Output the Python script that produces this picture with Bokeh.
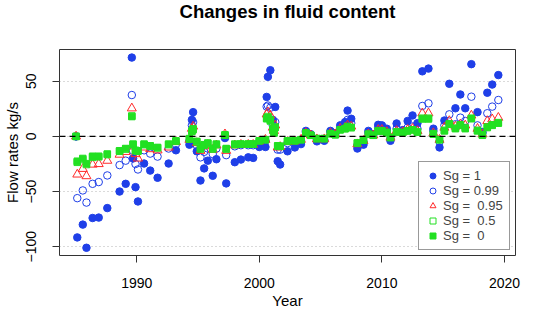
from bokeh.plotting import figure
from bokeh.models import ColumnDataSource, Legend, LegendItem, Span, FixedTicker, Range1d, Title
from bokeh.embed import file_html
from bokeh.resources import INLINE

years = [1985.05, 1985.15, 1985.6, 1985.9, 1986.4, 1986.9, 1987.6, 1988.6, 1989.1, 1989.6,
         1989.7, 1989.9, 1990.1, 1990.6, 1991.1, 1991.7, 1992.6, 1993.2, 1994.3, 1994.5,
         1994.6, 1994.9, 1995.2, 1995.5, 1995.8, 1996.2, 1996.5, 1997.2, 1997.3, 1998.0,
         1998.5, 1999.1, 1999.5, 2000.0, 2000.5, 2000.6, 2000.7, 2000.9, 2001.1, 2001.2,
         2001.3, 2001.5, 2001.7, 2002.3, 2002.9, 2003.4, 2003.8, 2004.2, 2004.7, 2005.3,
         2005.8, 2006.2, 2006.6, 2007.0, 2007.2, 2007.5, 2008.0, 2008.5, 2008.9, 2009.3,
         2009.7, 2010.0, 2010.4, 2010.7, 2011.2, 2011.7, 2012.1, 2012.5, 2012.9, 2013.3,
         2013.8, 2014.2, 2014.7, 2015.1, 2015.5, 2016.0, 2016.4, 2016.8, 2017.3, 2017.8,
         2018.2, 2018.6, 2019.0, 2019.5]

sg_1 = [0, -91.6, -80, -101, -74, -73.6, -65, -50, -43, 71.5,
        -20, -46, -59, -24.6, -31, -37.5, -24.6, -12.6, -7.5, 15,
        22, -13.5, -40, -29, -22, -35.7, -20.7, -1.5, -42.6, -23.4,
        -21, -19, -19.5, -9.6, -9.6, 35.8, 54, 60, 15, 8,
        26.7, -22.5, -25.5, -13.5, -10, -7, 5, 2, -4.5, -4,
        5, 3, 10, 13, 23.4, 16, -11, -7.5, 5, 2,
        10.5, 10, 7, -4, 11.7, 5.7, 14, 19, 12, 59,
        61.5, 7, -10, 14.4, 47.7, 25.5, 38, 25.5, 65.5, 22,
        4, 39.6, 47, 55.6]

sg_099 = [0, -56, -49, -60, -43, -41.4, -35.4, -26, -22, 37.5,
          -13, -25, -30, -12.6, -15.6, -18.3, -11, -7, -4, 10,
          13, -8, -19, -14, -11, -16, -11, 1, -17, -9,
          -8, -8, -8, -5, -4, 27, 28, 26, 10, 6,
          13, -12, -12, -6, -5, -4, 4, 1.5, -3, -3,
          4, 2.5, 8, 10, 15, 12, -8, -5, 3, 1.5,
          8, 7, 5, -2, 7, 5, 8, 9, 7, 27.6,
          30, 5, -5, 10, 20, 11, 17, 14, 36, 10,
          3, 21, 27, 33]

sg_095 = [0, -34.5, -29.4, -36, -25.5, -25, -22, -16.5, -14, 25.5,
          -9, -16, -20, -10, -11.5, -12.6, -10, -5, -3, 7,
          9, -6, -13, -9, -7.5, -12, -8, 2, -13, -8,
          -7.5, -7.5, -7.5, -4.5, -3, 20, 22, 19, 8, 5,
          10, -10, -9.5, -5, -4.5, -3, 3, 1, -2.5, -2.5,
          3, 2, 7, 8, 10, 9, -7, -4, 2, 1,
          6, 6, 4, -1, 5, 4, 6, 7, 5, 21,
          21, 3, -3, 8, 14, 9, 11, 10, 19, 7,
          2, 14, 15.6, 17]

sg_05 = [0, -23.5, -21, -25.5, -19, -18.5, -16.5, -13.5, -11.5, 18.5,
         -7.5, -13, -13.5, -7.5, -9, -10.5, -7.5, -4.5, -2.5, 5,
         7, -5, -11.5, -8, -6.5, -11.5, -7.5, 1.5, -11.5, -7.5,
         -7, -7, -7, -4, -3, 16.5, 18, 15, 7, 4,
         8.5, -9, -9, -4.5, -4, -3, 3, 1, -2, -2,
         2.5, 1.5, 6, 7, 9, 8, -6, -3.5, 2, 1,
         5, 5, 3.5, -1, 4, 3.5, 5, 6, 4, 16.5,
         16.5, 2.5, -3, 5.5, 11.5, 7.5, 10.5, 8, 16.5, 5.5,
         1.5, 8.5, 10.5, 12.5]

sg_0 = [0, -22.5, -20, -24.7, -18, -18, -16, -13, -11, 18,
        -7, -12.6, -13, -7, -8.5, -10, -7, -4, -2, 4.5,
        6, -4.5, -11, -7.5, -6, -11, -7, 1, -11, -7,
        -7, -7, -7, -4, -3, 16, 17, 14, 6, 3,
        8, -8.5, -9, -4, -4, -3, 3, 1, -2, -2,
        2.5, 1.5, 6, 7, 8.5, 8, -6, -3.5, 2, 1,
        5, 5, 3.5, -1, 4, 3.5, 5, 6, 4, 15.8,
        15.8, 2, -3, 5, 11, 7, 10, 7, 16, 5,
        1, 8, 10, 12]

x_ticks = [1990, 2000, 2010, 2020]
y_ticks = [-100, -50, 0, 50]
labels = ["Sg = 1", "Sg = 0.99", "Sg =  0.95", "Sg =  0.5", "Sg =  0"]
title_text = "Changes in fluid content"

BLUE = "#1f3fe8"
RED = "#ff2a2a"
GREEN = "#22e022"
FONT = "Liberation Sans"

src = ColumnDataSource(dict(x=years, s1=sg_1, s099=sg_099, s095=sg_095, s05=sg_05, s0=sg_0))

p = figure(width=533, height=311, output_backend="svg", toolbar_location=None,
           x_range=Range1d(1983.7, 2020.9), y_range=Range1d(-108, 78.8),
           min_border_left=58, min_border_right=18, min_border_top=47, min_border_bottom=56,
           background_fill_color="white", border_fill_color="white")

# real title (outermost panel)
p.title.text = title_text
p.title.text_font = FONT
p.title.text_font_size = "18.5px"
p.title.text_font_style = "bold"
p.title.align = "center"
p.title.vertical_align = "top"
p.title.text_color = "black"
p.title.standoff = 0
p.title.offset = -7

# invisible spacer between the frame and the title
p.add_layout(Title(text=" ", text_font_size="10px", standoff=13), "above")

p.outline_line_color = "#333333"
p.outline_line_width = 1

p.xgrid.visible = False
p.ygrid.grid_line_color = "#b5b5b5"
p.ygrid.grid_line_dash = "1 3"
p.ygrid.grid_line_width = 1

p.xaxis.ticker = FixedTicker(ticks=x_ticks)
p.yaxis.ticker = FixedTicker(ticks=y_ticks)
p.yaxis.major_label_orientation = "vertical"
for ax in (p.xaxis[0], p.yaxis[0]):
    ax.axis_line_color = None
    ax.minor_tick_line_color = None
    ax.major_tick_in = 0
    ax.major_tick_out = 7
    ax.major_tick_line_color = "#333333"
    ax.major_label_text_font = FONT
    ax.major_label_text_font_size = "14px"
    ax.major_label_text_color = "black"
    ax.axis_label_text_font = FONT
    ax.axis_label_text_font_size = "15px"
    ax.axis_label_text_font_style = "normal"
    ax.axis_label_text_color = "black"
p.xaxis.axis_label = "Year"
p.yaxis.axis_label = "Flow rates kg/s"
p.xaxis.major_label_standoff = 15
p.xaxis.axis_label_standoff = 1
p.yaxis.major_label_standoff = 16
p.yaxis.axis_label_standoff = 3

p.add_layout(Span(location=0, dimension="width", line_color="black",
                  line_dash="6 4", line_width=1.3))

r1 = p.scatter("x", "s1", source=src, marker="circle", size=7.5,
               fill_color=BLUE, line_color=BLUE)
r2 = p.scatter("x", "s099", source=src, marker="circle", size=7.5,
               fill_color=None, line_color=BLUE, line_width=1)
r3 = p.scatter("x", "s095", source=src, marker="triangle", size=9,
               fill_color=None, line_color=RED, line_width=1)
r4 = p.scatter("x", "s05", source=src, marker="square", size=6.5,
               fill_color=None, line_color=GREEN, line_width=1)
r5 = p.scatter("x", "s0", source=src, marker="square", size=6.5,
               fill_color=GREEN, line_color=GREEN)

legend = Legend(items=[LegendItem(label=l, renderers=[r]) for l, r in
                       zip(labels, [r1, r2, r3, r4, r5])],
                location=(359, 5), margin=0, padding=6, spacing=0,
                glyph_height=15, glyph_width=15, label_height=15, label_standoff=3,
                label_text_font=FONT, label_text_font_size="13px",
                border_line_color="#333333", border_line_width=1,
                background_fill_color="white", background_fill_alpha=1)
p.add_layout(legend)

open("out.html", "w").write(file_html(p, INLINE))
